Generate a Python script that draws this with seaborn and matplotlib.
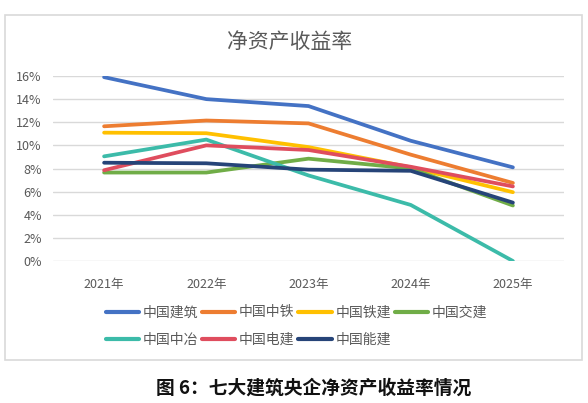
import pandas as pd
import matplotlib
matplotlib.use("Agg")
import matplotlib.pyplot as plt
import matplotlib.patches as patches
import seaborn as sns

years = ["2021年", "2022年", "2023年", "2024年", "2025年"]
companies = ["中国建筑", "中国中铁", "中国铁建", "中国交建", "中国中冶", "中国电建", "中国能建"]
roe = {
    "中国建筑": [15.9, 14.0, 13.4, 10.4, 8.1],
    "中国中铁": [11.65, 12.15, 11.9, 9.2, 6.75],
    "中国铁建": [11.1, 11.05, 9.85, 8.1, 5.95],
    "中国交建": [7.65, 7.65, 8.85, 8.0, 4.8],
    "中国中冶": [9.05, 10.5, 7.4, 4.85, 0.0],
    "中国电建": [7.85, 10.0, 9.6, 8.15, 6.45],
    "中国能建": [8.5, 8.45, 7.9, 7.8, 5.05],
}
colors = ["#4472C4", "#ED7D31", "#FFC000", "#70AD47", "#3CBBA9", "#DF4D5E", "#264478"]

rows = []
for c in companies:
    for y, v in zip(years, roe[c]):
        rows.append({"year": y, "company": c, "roe": v / 100})
df = pd.DataFrame(rows)

sns.set_style("white")
plt.rcParams["font.family"] = ["Noto Sans CJK SC", "DejaVu Sans"]

fig = plt.figure(figsize=(5.88, 4.03), dpi=100)
W, H = 588, 403

# chart frame
fig.patches.append(patches.Rectangle((5 / W, 1 - 360 / H), 577 / W, 345 / H,
                                     transform=fig.transFigure, fill=False,
                                     edgecolor="#d9d9d9", linewidth=1.2))

ax = fig.add_axes([53 / W, 1 - 261 / H, 511 / W, 185 / H])
sns.lineplot(data=df, x="year", y="roe", hue="company", hue_order=companies,
             palette=colors, linewidth=2.7, ax=ax, legend=False, sort=False)

ax.set_xlim(-0.5, 4.5)
ax.set_ylim(0, 0.16)
ax.set_yticks([i / 100 for i in range(0, 17, 2)])
ax.set_yticklabels([f"{i}%" for i in range(0, 17, 2)])
ax.grid(axis="y", color="#d9d9d9", linewidth=1)
ax.set_axisbelow(True)
for s in ax.spines.values():
    s.set_visible(False)
ax.tick_params(axis="both", length=0, labelsize=9, colors="#595959")
ax.tick_params(axis="x", pad=12)
ax.tick_params(axis="y", pad=8)
ax.set_xlabel("")
ax.set_ylabel("")

fig.text(290 / W, 1 - 42 / H, "净资产收益率", ha="center", va="center",
         fontsize=15, color="#595959", fontweight="light")

# legend, row-major in 4 columns
handles = [plt.Line2D([], [], color=col, linewidth=3) for col in colors]
order = [0, 4, 1, 5, 2, 6, 3]
leg = fig.legend([handles[i] for i in order], [companies[i] for i in order],
                 ncol=4, loc="center left", bbox_to_anchor=(93 / W, 1 - 326 / H),
                 frameon=False, fontsize=10, handlelength=2.4, handletextpad=0.25,
                 columnspacing=0.3, labelspacing=0.95, labelcolor="#595959")

fig.text(314 / W, 1 - 388 / H, "图 6：七大建筑央企净资产收益率情况", ha="center",
         va="center", fontsize=13.5, fontweight="bold", color="#111111")

fig.savefig("out.png", dpi=100)
